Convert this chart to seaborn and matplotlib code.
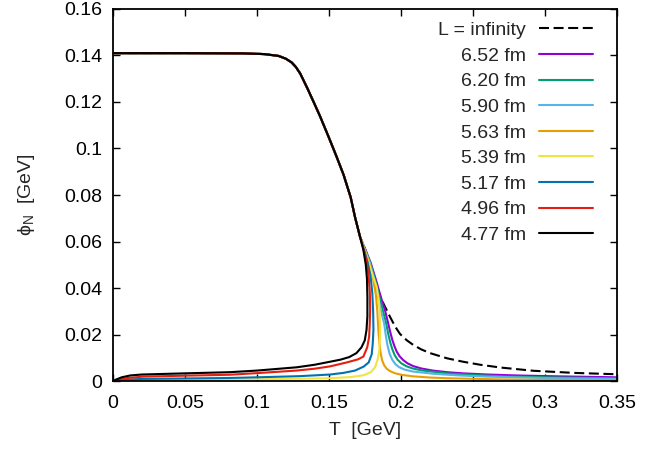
import numpy as np
import pandas as pd
import matplotlib
matplotlib.use("Agg")
import matplotlib.pyplot as plt
from matplotlib.ticker import FuncFormatter, MultipleLocator
import seaborn as sns

# Shared chirally broken branch (T in GeV, phi_N in GeV), common to every box size
upper_T = [0.000, 0.050, 0.090, 0.105, 0.115, 0.120, 0.124, 0.127, 0.130,
           0.135, 0.140, 0.1437, 0.150, 0.155, 0.160, 0.165, 0.168, 0.1715]
upper_phi = [0.1410, 0.1410, 0.1409, 0.1406, 0.1398, 0.1386, 0.1370, 0.1350, 0.1322,
             0.1258, 0.1190, 0.1139, 0.1045, 0.0968, 0.0888, 0.0790, 0.0705, 0.0620]

# Continuation of each curve below the shared branch
inf_T = [0.1755, 0.1778, 0.1830, 0.1855, 0.1880, 0.1924, 0.1960, 0.1993, 0.2040,
         0.2085, 0.2140, 0.2201, 0.2317, 0.2430, 0.2549, 0.2690, 0.2920, 0.3200, 0.3500]
inf_phi = [0.0560, 0.0515, 0.0406, 0.0365, 0.0330, 0.0275, 0.0233, 0.0202, 0.0175,
           0.0155, 0.0136, 0.0120, 0.0098, 0.0083, 0.0070, 0.0058, 0.0044, 0.0035, 0.0029]

L652_T = [0.1755, 0.1788, 0.1823, 0.1860, 0.1890, 0.1910, 0.1925, 0.1940, 0.1955,
          0.1970, 0.1990, 0.2015, 0.2045, 0.2085, 0.2140, 0.2220, 0.2320, 0.2430,
          0.2600, 0.2800, 0.3100, 0.3500]
L652_phi = [0.0560, 0.0510, 0.0440, 0.0360, 0.0300, 0.0249, 0.0210, 0.0175, 0.0148,
            0.0126, 0.0106, 0.0090, 0.0076, 0.0064, 0.0054, 0.0045, 0.0038, 0.0033,
            0.0028, 0.0024, 0.0020, 0.0016]

L620_T = [0.1753, 0.1785, 0.1818, 0.1850, 0.1875, 0.1896, 0.1910, 0.1925, 0.1940,
          0.1955, 0.1975, 0.2000, 0.2035, 0.2080, 0.2150, 0.2317, 0.2500, 0.2750,
          0.3100, 0.3500]
L620_phi = [0.0560, 0.0510, 0.0440, 0.0360, 0.0300, 0.0249, 0.0205, 0.0165, 0.0135,
            0.0112, 0.0092, 0.0077, 0.0064, 0.0054, 0.0045, 0.0033, 0.0026, 0.0019,
            0.0015, 0.0012]

L590_T = [0.1752, 0.1782, 0.1812, 0.1840, 0.1865, 0.1882, 0.1893, 0.1905, 0.1920,
          0.1938, 0.1960, 0.1985, 0.2025, 0.2080, 0.2229, 0.2400, 0.2596, 0.3000, 0.3500]
L590_phi = [0.0560, 0.0510, 0.0440, 0.0360, 0.0290, 0.0249, 0.0200, 0.0155, 0.0118,
            0.0092, 0.0073, 0.0060, 0.0049, 0.0041, 0.0031, 0.0024, 0.0019, 0.0013, 0.0009]

L563_T = [0.1750, 0.1778, 0.1805, 0.1825, 0.1835, 0.1842, 0.1850, 0.1858, 0.1868,
          0.1882, 0.1900, 0.1925, 0.1960, 0.2010, 0.2085, 0.2200, 0.2320, 0.2690,
          0.3000, 0.3500]
L563_phi = [0.0560, 0.0510, 0.0440, 0.0370, 0.0300, 0.0220, 0.0160, 0.0120, 0.0090,
            0.0068, 0.0053, 0.0042, 0.0033, 0.0026, 0.0020, 0.0015, 0.0012, 0.0007,
            0.0005, 0.0004]

L539_T = [0.1748, 0.1775, 0.1805, 0.1830, 0.1845, 0.1852, 0.1854, 0.1848, 0.1838,
          0.1820, 0.1790, 0.1740, 0.1650, 0.1507, 0.1200, 0.0900, 0.0500, 0.0200, 0.0000]
L539_phi = [0.0560, 0.0510, 0.0450, 0.0406, 0.0350, 0.0290, 0.0200, 0.0130, 0.0095,
            0.0060, 0.0038, 0.0025, 0.0017, 0.0012, 0.0009, 0.0007, 0.0005, 0.0003, 0.0000]

L517_T = [0.1745, 0.1768, 0.1788, 0.1800, 0.1806, 0.1808, 0.1803, 0.1796, 0.1775,
          0.1740, 0.1680, 0.1600, 0.1507, 0.1300, 0.1000, 0.0800, 0.0500, 0.0200,
          0.0050, 0.0000]
L517_phi = [0.0560, 0.0510, 0.0450, 0.0380, 0.0300, 0.0220, 0.0160, 0.0115, 0.0080,
            0.0062, 0.0045, 0.0035, 0.0028, 0.0021, 0.0016, 0.0013, 0.0011, 0.0009,
            0.0005, 0.0000]

L496_T = [0.1742, 0.1762, 0.1775, 0.1783, 0.1785, 0.1782, 0.1778, 0.1765, 0.1738,
          0.1700, 0.1623, 0.1507, 0.1400, 0.1275, 0.1000, 0.0810, 0.0500, 0.0210,
          0.0100, 0.0040, 0.0000]
L496_phi = [0.0560, 0.0510, 0.0450, 0.0380, 0.0306, 0.0240, 0.0190, 0.0145, 0.0105,
            0.0093, 0.0080, 0.0063, 0.0053, 0.0045, 0.0034, 0.0027, 0.0023, 0.0019,
            0.0013, 0.0006, 0.0000]

L477_T = [0.1738, 0.1755, 0.1763, 0.1766, 0.1766, 0.1760, 0.1748, 0.1725, 0.1690,
          0.1640, 0.1580, 0.1507, 0.1400, 0.1275, 0.1000, 0.0810, 0.0500, 0.0200,
          0.0120, 0.0060, 0.0020, 0.0000]
L477_phi = [0.0564, 0.0500, 0.0440, 0.0360, 0.0280, 0.0220, 0.0175, 0.0145, 0.0120,
            0.0103, 0.0092, 0.0083, 0.0070, 0.0059, 0.0045, 0.0038, 0.0033, 0.0028,
            0.0024, 0.0016, 0.0006, 0.0000]

labels = ["L = infinity", "6.52 fm", "6.20 fm", "5.90 fm", "5.63 fm",
          "5.39 fm", "5.17 fm", "4.96 fm", "4.77 fm"]
colors = ["black", "#9400d3", "#009e73", "#56b4e9", "#e69f00",
          "#f0e442", "#0072b2", "#e51e10", "black"]
branches = [(inf_T, inf_phi), (L652_T, L652_phi), (L620_T, L620_phi),
            (L590_T, L590_phi), (L563_T, L563_phi), (L539_T, L539_phi),
            (L517_T, L517_phi), (L496_T, L496_phi), (L477_T, L477_phi)]

sns.set_theme(style="ticks")
plt.rcParams["font.family"] = ["Liberation Sans", "DejaVu Sans"]
plt.rcParams["font.size"] = 14
plt.rcParams["mathtext.default"] = "regular"

fig = plt.figure(figsize=(6.65, 4.49), dpi=100)
ax = fig.add_axes([0.170, 0.1514, 0.758, 0.8286])

for lab, col, (bt, bp) in zip(labels, colors, branches):
    df = pd.DataFrame({"T": upper_T + bt, "phi": upper_phi + bp})
    ls = (0, (4.8, 2.2)) if lab.startswith("L =") else "-"
    sns.lineplot(data=df, x="T", y="phi", sort=False, estimator=None, ax=ax,
                 color=col, linewidth=1.5, linestyle=ls, label=lab)

ax.set_xlim(0, 0.35)
ax.set_ylim(0, 0.16)
ax.xaxis.set_major_locator(MultipleLocator(0.05))
ax.yaxis.set_major_locator(MultipleLocator(0.02))
fmt = FuncFormatter(lambda v, p: "%g" % round(v, 4))
ax.xaxis.set_major_formatter(fmt)
ax.yaxis.set_major_formatter(fmt)
ax.tick_params(direction="in", length=5, width=1, top=True, right=True,
               labelsize=14, colors="black")
ax.tick_params(axis="x", pad=10)
ax.tick_params(axis="y", pad=8)
for s in ax.spines.values():
    s.set_visible(True)
    s.set_linewidth(1.3)
    s.set_color("black")

ax.set_xlabel("T  [GeV]", fontsize=14, labelpad=7)
ax.set_ylabel("$ϕ_N$  [GeV]", fontsize=14, labelpad=19)

leg = ax.legend(loc="upper right", bbox_to_anchor=(0.952, 0.966), frameon=False,
                markerfirst=False, handlelength=2.75, handletextpad=0.7,
                labelspacing=0.41, borderpad=0, borderaxespad=0, fontsize=14)

fig.savefig("out.png", dpi=100)
